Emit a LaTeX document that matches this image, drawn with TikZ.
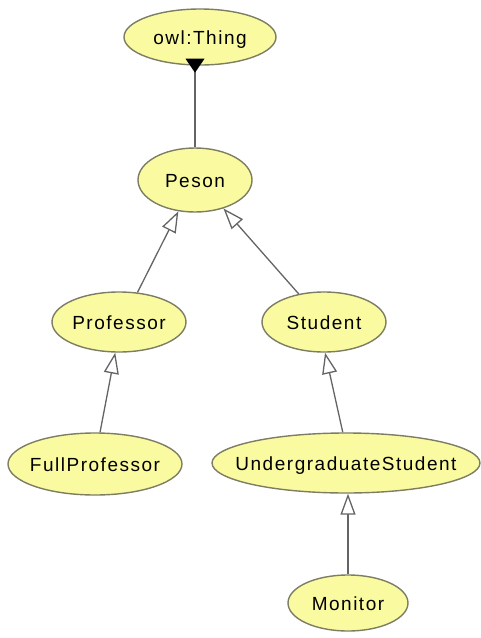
\documentclass[tikz,border=0pt]{standalone}
\usepackage{fontspec}
\setmainfont{Liberation Sans}[LetterSpace=8]
\usetikzlibrary{shapes.geometric,arrows.meta}
\definecolor{classfill}{RGB}{250,250,160}
\definecolor{classedge}{RGB}{125,125,100}
\definecolor{linkgray}{RGB}{100,100,100}
\tikzset{
  cls/.style={ellipse, draw=classedge, line width=1.4pt, fill=classfill,
    inner sep=0pt, text height=14pt, text depth=0pt,
    font=\fontsize{19}{19}\selectfont},
  isa/.style={draw=linkgray, line width=1.3pt,
    -{Triangle[length=21pt, width=15pt, fill=white]}},
  topline/.style={draw=linkgray, line width=1.3pt}
}
\newcommand{\clsname}[1]{\makebox[0pt]{#1}}
\begin{document}
\begin{tikzpicture}[x=1pt,y=-1pt]
\useasboundingbox (0,0) rectangle (481,638);

% classes
\node[cls, minimum width=152pt, minimum height=56pt] (thing) at (200,37) {\clsname{owl:Thing}};
\node[cls, minimum width=114pt, minimum height=64pt] (person) at (195,180) {\clsname{Peson}};
\node[cls, minimum width=134pt, minimum height=60pt] (prof) at (119,322) {\clsname{Professor}};
\node[cls, minimum width=124pt, minimum height=60pt] (student) at (324,322) {\clsname{Student}};
\node[cls, minimum width=174pt, minimum height=62pt] (fullprof) at (95,464) {\clsname{FullProfessor}};
\node[cls, minimum width=268pt, minimum height=60pt] (ugrad) at (346,463) {\clsname{UndergraduateStudent}};
\node[cls, minimum width=120pt, minimum height=56pt] (monitor) at (348,603) {\clsname{Monitor}};

% subclass links
\draw[topline] (person.north) -- (person.north |- thing.south) coordinate (thingfoot);
\fill[black] ([xshift=-9.5pt,yshift=7pt]thingfoot) -- ++(19,0) -- ([yshift=-7pt]thingfoot) -- cycle;
\draw[isa] (prof.58) -- (person.-118);
\draw[isa] (student.132) -- (person.-45);
\draw[isa] (fullprof.81) -- (prof.-97);
\draw[isa] (ugrad.96) -- (student.-88);
\draw[isa] (monitor.north) -- (monitor.north |- ugrad.south);
\end{tikzpicture}
\end{document}
